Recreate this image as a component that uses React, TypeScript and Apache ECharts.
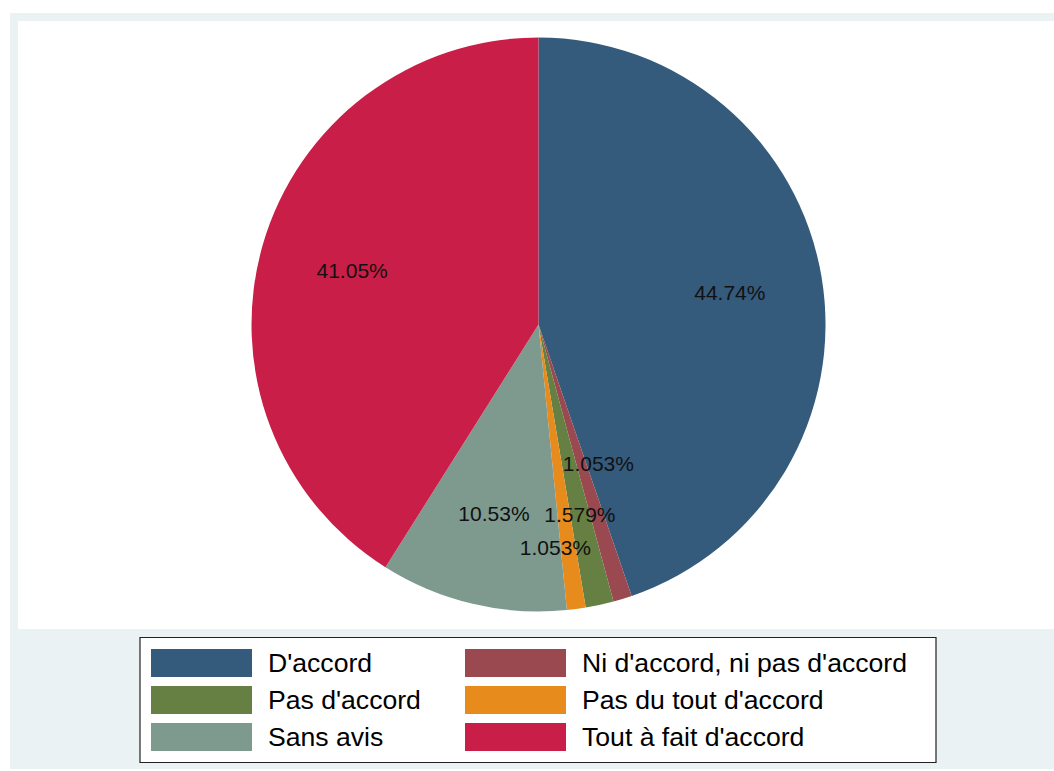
import React, { useEffect, useRef } from "react";
import * as echarts from "echarts";

const categories = [
  "D'accord",
  "Ni d'accord, ni pas d'accord",
  "Pas d'accord",
  "Pas du tout d'accord",
  "Sans avis",
  "Tout à fait d'accord",
];
const values = [44.74, 1.053, 1.579, 1.053, 10.53, 41.05];
const colors = ["#345A7C", "#9B4950", "#667F42", "#E78B1D", "#7E9A8F", "#C81E48"];

// which labels are drawn at which depth (Stata staggers the small slices)
const labelGroupMid = [true, false, true, false, true, true];
const labelGroupInner = [false, true, false, false, false, false];
const labelGroupOuter = [false, false, false, true, false, false];
const labelNudge: number[][] = [[0, 0], [15, -7], [0, 0], [-13, -2], [0, 0], [0, 0]];

const FONT = "'Liberation Sans', Arial, Helvetica, sans-serif";

export default function App() {
  const ref = useRef<HTMLDivElement>(null);
  useEffect(() => {
    if (!ref.current) return;
    const chart = echarts.init(ref.current, undefined, { renderer: "svg" });
    const cx = 538.5;
    const cy = 324.5;
    const R = 287;

    const baseData = categories.map((name, i) => ({
      name,
      value: values[i],
      itemStyle: { color: colors[i] },
    }));

    const labelSeries = (r0: number, show: boolean[]) => ({
      type: "pie",
      center: [cx, cy],
      radius: [r0, R],
      startAngle: 90,
      clockwise: true,
      silent: true,
      z: 5,
      avoidLabelOverlap: false,
      emphasis: { disabled: true },
      labelLine: { show: false },
      itemStyle: { color: "transparent", borderWidth: 0 },
      data: categories.map((name, i) => ({
        name,
        value: values[i],
        itemStyle: { color: "transparent" },
        label: { show: show[i], offset: labelNudge[i] },
      })),
      label: {
        position: "inside",
        formatter: (p: any) => p.value + "%",
        color: "#111",
        fontSize: 21,
        fontFamily: FONT,
      },
    });

    const legendCommon = {
      orient: "vertical",
      selectedMode: false,
      icon: "rect",
      padding: 0,
      itemWidth: 101,
      itemHeight: 28,
      itemGap: 9,
      top: 649,
      textStyle: {
        fontSize: 26.6,
        fontFamily: FONT,
        color: "#000",
        padding: [2, 0, 0, 11],
      },
    };

    chart.setOption({
      animation: false,
      backgroundColor: "#ffffff",
      graphic: [
        {
          type: "rect",
          z: -10,
          silent: true,
          shape: { x: 10, y: 13, width: 1044, height: 756 },
          style: { fill: "#EAF2F3" },
        },
        {
          type: "rect",
          z: -9,
          silent: true,
          shape: { x: 18, y: 21, width: 1036, height: 608 },
          style: { fill: "#ffffff" },
        },
        {
          type: "rect",
          z: -8,
          silent: true,
          shape: { x: 140, y: 637.5, width: 796, height: 125 },
          style: { fill: "#ffffff", stroke: "#222", lineWidth: 1.2 },
        },
      ],
      legend: [
        {
          ...legendCommon,
          left: 151,
          data: [0, 2, 4].map((i) => ({ name: categories[i], itemStyle: { color: colors[i] } })),
        },
        {
          ...legendCommon,
          left: 465,
          data: [1, 3, 5].map((i) => ({ name: categories[i], itemStyle: { color: colors[i] } })),
        },
      ],
      series: [
        {
          type: "pie",
          center: [cx, cy],
          radius: [0, R],
          startAngle: 90,
          clockwise: true,
          silent: true,
          emphasis: { disabled: true },
          label: { show: false },
          labelLine: { show: false },
          itemStyle: { borderWidth: 0 },
          data: baseData,
        },
        labelSeries(95, labelGroupMid),
        labelSeries(13, labelGroupInner),
        labelSeries(161, labelGroupOuter),
      ],
    });
    return () => chart.dispose();
  }, []);
  return (
    <div
      ref={ref}
      style={{ position: "fixed", left: 0, top: 0, width: 1054, height: 771 }}
    />
  );
}
